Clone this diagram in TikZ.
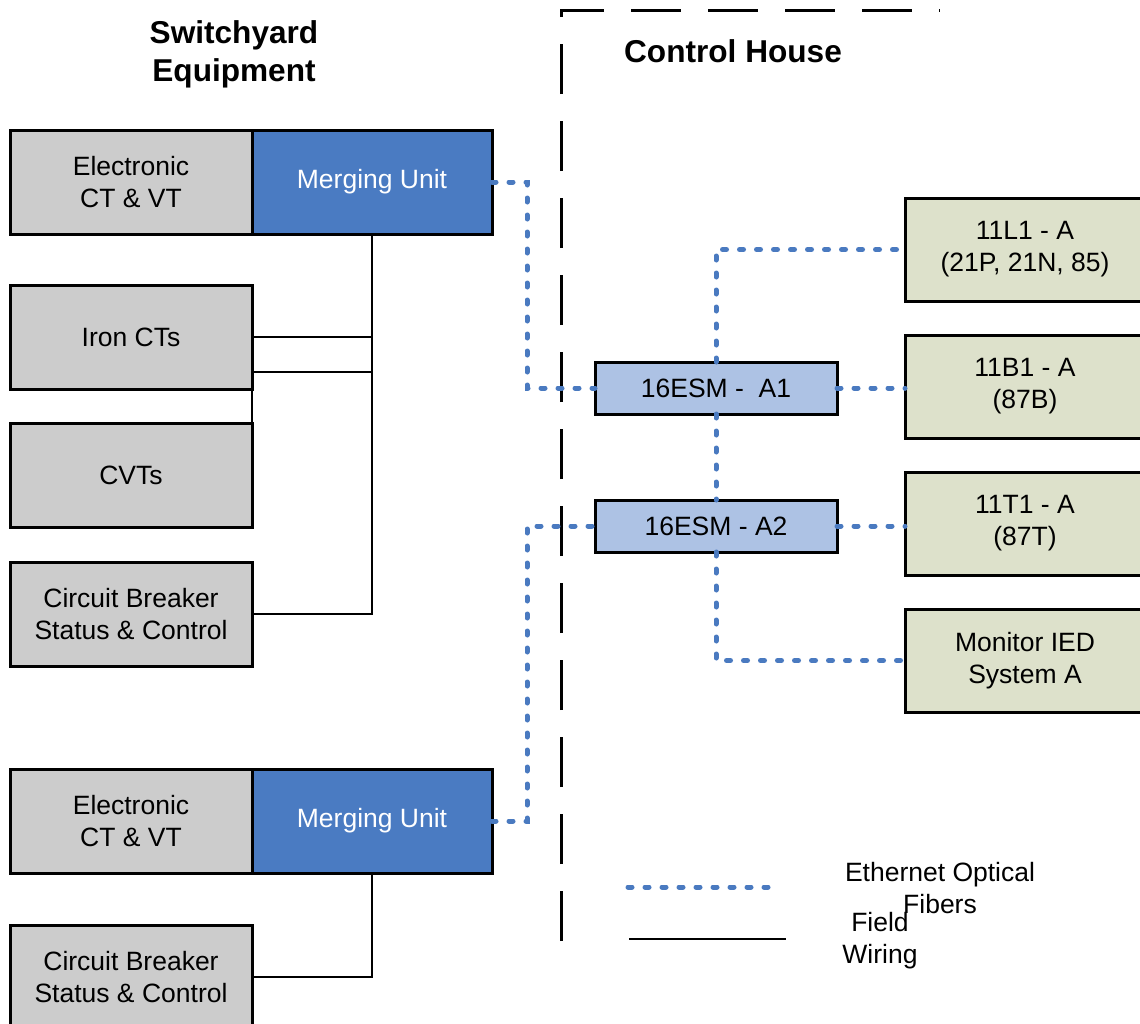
\documentclass[tikz,border=0pt]{standalone}
\usepackage{fontspec}
\setmainfont{Liberation Sans}
\usepackage{tikz}

\definecolor{boxgray}{RGB}{204,204,204}
\definecolor{mublue}{RGB}{74,123,194}
\definecolor{esmblue}{RGB}{173,194,228}
\definecolor{iedgreen}{RGB}{221,225,203}
\definecolor{fiberblue}{RGB}{74,122,192}

\begin{document}
\begin{tikzpicture}[x=1pt, y=-1pt]
% Definition of blocks:
\usetikzlibrary{positioning}
\tikzset{%
  equip/.style    = {draw, line width=3pt, rectangle, fill=boxgray, outer sep=0pt, minimum width=242pt, minimum height=104pt, align=center, font=\fontsize{26.5}{32}\selectfont},
  mu/.style       = {equip, fill=mublue, text=white, minimum width=240pt}, % Merging unit
  esm/.style      = {equip, fill=esmblue, minimum height=52pt}, % Ethernet switch
  ied/.style      = {equip, fill=iedgreen, minimum width=240pt, minimum height=103pt},
  head/.style     = {align=center, font=\bfseries\fontsize{31.6}{38}\selectfont},
  legend/.style   = {align=center, font=\fontsize{26.5}{32}\selectfont},
  fiber/.style    = {draw=fiberblue, line width=5pt, line cap=round, dash pattern=on 4pt off 13pt},
  wire/.style     = {draw, line width=2.5pt},
  border/.style   = {draw, line width=3pt, dash pattern=on 50pt off 27pt}
}
\useasboundingbox (0,0) rectangle (1140,1023);

% control house border
\draw[border] (561,941) -- (561,10) -- (940,10);

\node[head] (yard) at (234,54) {Switchyard\\Equipment};
\node[head] (house) at (733,51) {Control House};

% switchyard side
\draw
	node [equip] (ect1) at (131,182) {Electronic\\CT \& VT}
	node [mu, right = 0pt of ect1] (mu1) {Merging Unit}
	node [equip, below = 51pt of ect1] (iron) {Iron CTs}
	node [equip, below = 34pt of iron] (cvt) {CVTs}
	node [equip, below = 35pt of cvt] (cb1) {Circuit Breaker\\Status \& Control}
	node [equip, below = 103pt of cb1] (ect2) {Electronic\\CT \& VT}
	node [mu, right = 0pt of ect2] (mu2) {Merging Unit}
	node [equip, below = 52pt of ect2] (cb2) {Circuit Breaker\\Status \& Control};

% control house side
\draw
	node [esm] (esm1) at (716,388) {16ESM -\ \ A1}
	node [esm, below = 86pt of esm1] (esm2) {16ESM - A2}
	node [ied] (l1) at (1025,249.5) {11L1 - A\\(21P, 21N, 85)}
	node [ied, below = 34pt of l1] (b1) {11B1 - A\\(87B)}
	node [ied, below = 34pt of b1] (t1) {11T1 - A\\(87T)}
	node [ied, below = 34pt of t1] (mon) {Monitor IED\\System A};

% field wiring
\coordinate[above = 17pt of iron.south east] (cvtjoin);
\draw[wire] (mu1.south) |- (cb1.east);
\draw[wire] (iron.east) -- (iron.east -| mu1.south);
\draw[wire] (cvt.north east) -- (cvtjoin) -- (cvtjoin -| mu1.south);
\draw[wire] (mu2.south) |- (cb2.east);

% optical fibers
\draw[fiber] (mu1.east) -- ++(35,0) |- (esm1.west);
\draw[fiber] (mu2.east) -- ++(35,0) |- (esm2.west);
\draw[fiber] (esm1.north) |- (l1.west);
\draw[fiber] (esm1.east) -- (esm1.east -| b1.west);
\draw[fiber] (esm1.south) -- (esm2.north);
\draw[fiber] (esm2.east) -- (esm2.east -| t1.west);
\draw[fiber] (esm2.south) |- (mon.west);

% legend
\coordinate (fibA) at (628,887);
\coordinate (fibB) at (775,887);
\coordinate (wireA) at (629,939);
\coordinate (wireB) at (786,939);
\draw[fiber] (fibA) -- (fibB);
\draw[wire] (wireA) -- (wireB);
\node[legend] (fibtxt) at (940,888) {Ethernet Optical\\Fibers};
\node[legend] (wiretxt) at (880,941) {Field\\Wiring};
\end{tikzpicture}
\end{document}
